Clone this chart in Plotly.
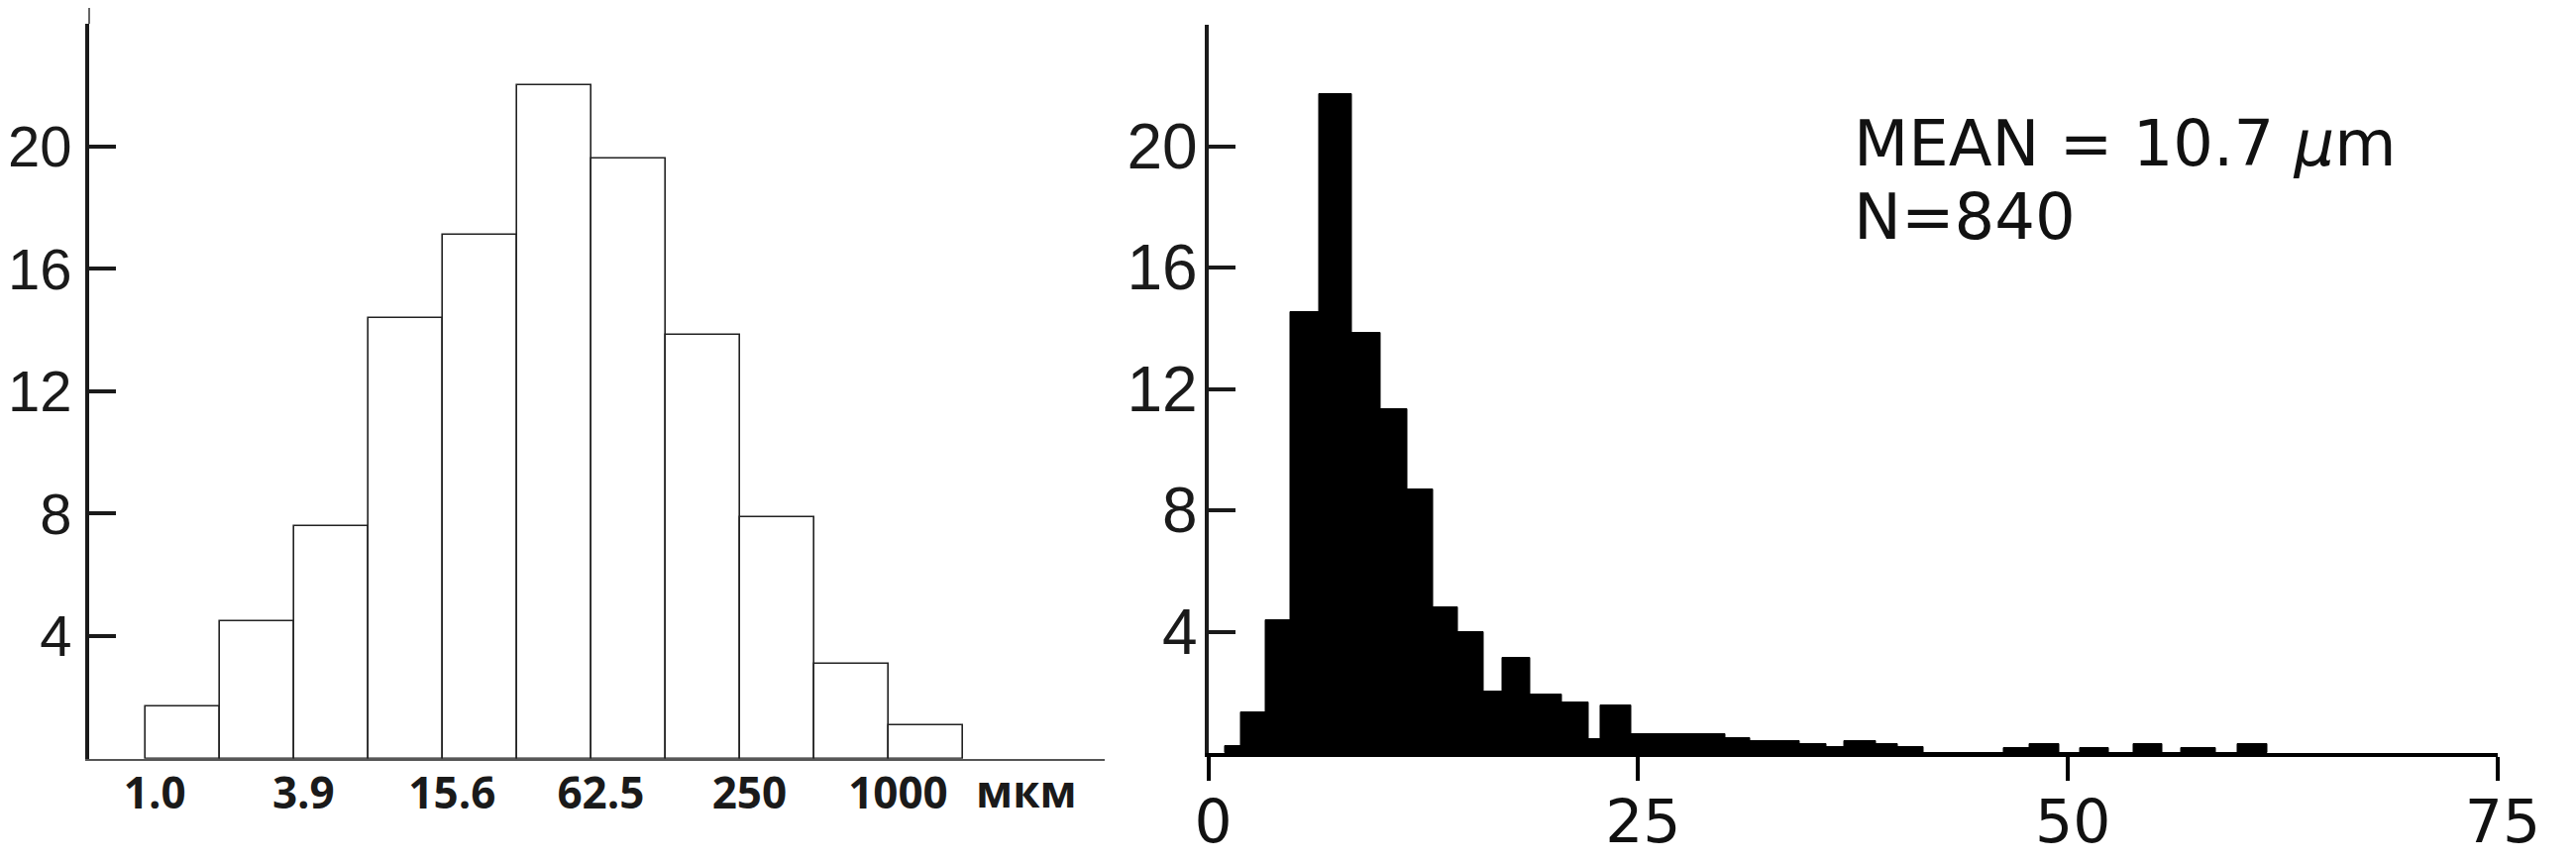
import numpy as np
import plotly.graph_objects as go

# ---- left panel: size classes on a phi (log2) scale, % of grains ----
phi_left_edge = list(range(11))
phi_pct = [1.7, 4.5, 7.6, 14.4, 17.1, 22.0, 19.6, 13.85, 7.9, 3.1, 1.1]
phi_tick_pos = [0, 2, 4, 6, 8, 10]
phi_tick_text = ["1.0", "3.9", "15.6", "62.5", "250", "1000"]

# ---- right panel: linear size histogram (um), % of grains ----
size_edges = [1.0, 1.9, 3.35, 4.8, 6.45, 8.35, 10.0, 11.6, 13.1, 14.55, 16.0,
              17.1, 18.75, 20.6, 22.1, 22.8, 24.6, 30.1, 31.5, 34.4, 35.95,
              37.0, 38.85, 40.1, 41.6, 46.3, 47.8, 49.5, 50.7, 52.4, 53.8,
              55.5, 56.6, 58.6, 59.9, 61.6]
size_pct = [0.22, 1.34, 4.37, 14.54, 21.7, 13.85, 11.34, 8.69, 4.81, 3.99,
            2.04, 3.14, 1.93, 1.67, 0.47, 1.56, 0.62, 0.5, 0.38, 0.28, 0.2,
            0.4, 0.3, 0.2, 0.0, 0.15, 0.28, 0.0, 0.15, 0.0, 0.28, 0.0, 0.15,
            0.0, 0.28]
size_ticks = [0, 25, 50, 75]

y_ticks = [4, 8, 12, 16, 20, 24]
y_tick_text = ["4", "8", "12", "16", "20", ""]

# the page body has an 8px margin, so the figure is a bit smaller
PAGE_W, PAGE_H, BODY = 2600, 871, 8
W, H = PAGE_W - BODY, PAGE_H - BODY


def fx(px):
    return (px - BODY) / W


def fy(py):
    return (PAGE_H - py) / H


fig = go.Figure()

# left histogram: white boxes with thin outlines
fig.add_trace(go.Bar(
    x=np.array(phi_left_edge) + 0.5,
    y=phi_pct,
    width=1,
    marker=dict(color="white", line=dict(color="#222", width=1.6)),
    xaxis="x", yaxis="y",
))

# right histogram: solid black bins
edges = np.array(size_edges)
fig.add_trace(go.Bar(
    x=(edges[:-1] + edges[1:]) / 2,
    y=size_pct,
    width=np.diff(edges),
    marker=dict(color="black", line=dict(color="black", width=1)),
    xaxis="x2", yaxis="y2",
))

num_font = dict(family="Liberation Sans, Arial, sans-serif", size=64, color="#1a1a1a")
round_font = dict(family="DejaVu Sans, sans-serif", size=64, color="#111")
bold_font = dict(family="Open Sans, sans-serif", size=44,
                 color="#1a1a1a", weight="bold")

fig.update_layout(
    width=W, height=H,
    margin=dict(l=0, r=0, t=0, b=0),
    paper_bgcolor="white", plot_bgcolor="white",
    showlegend=False, bargap=0,
    xaxis=dict(
        domain=[fx(90), fx(1115)], range=[-0.764, 12.9],
        tickvals=phi_tick_pos, ticktext=phi_tick_text,
        ticks="", showgrid=False, zeroline=False,
        showline=True, linecolor="#555", linewidth=2,
        tickfont=bold_font,
        ticklabelshift=9, ticklabelstandoff=-5,
        anchor="y", automargin=False,
    ),
    yaxis=dict(
        domain=[fy(765.7), fy(24)], range=[0, 24],
        tickvals=y_ticks, ticktext=y_tick_text,
        ticks="inside", ticklen=27, tickwidth=4, tickcolor="#1a1a1a",
        showline=True, linecolor="#1a1a1a", linewidth=4,
        showgrid=False, zeroline=False,
        tickfont=dict(num_font, size=58), ticklabelstandoff=2,
        anchor="x", automargin=False,
    ),
    xaxis2=dict(
        domain=[fx(1219.5), fx(2521)], range=[0, 75],
        tickvals=size_ticks,
        ticks="outside", ticklen=24, tickwidth=4, tickcolor="black",
        showline=True, linecolor="black", linewidth=4,
        showgrid=False, zeroline=False,
        tickfont=dict(round_font, size=60), ticklabelshift=5,
        ticklabelstandoff=-10,
        anchor="y2", automargin=False,
    ),
    yaxis2=dict(
        domain=[fy(760), fy(25)], range=[0, 24],
        tickvals=y_ticks, ticktext=y_tick_text,
        ticks="inside", ticklen=27, tickwidth=4, tickcolor="#1a1a1a",
        showline=True, linecolor="#1a1a1a", linewidth=4,
        showgrid=False, zeroline=False,
        tickfont=num_font, ticklabelstandoff=-6,
        anchor="x2", automargin=False,
    ),
)

# unit label after the last phi tick
fig.add_annotation(
    x=11.85, y=0, xref="x", yref="y", yanchor="middle", yshift=-32,
    text="мкм", showarrow=False, font=bold_font,
)

# statistics block on the right panel
fig.add_annotation(
    x=37.4, y=21.35, xref="x2", yref="y2", xanchor="left", yanchor="top",
    text="MEAN = 10.7 <i>μ</i>m", showarrow=False, font=round_font,
)
fig.add_annotation(
    x=37.4, y=18.95, xref="x2", yref="y2", xanchor="left", yanchor="top",
    text="N=840", showarrow=False, font=round_font,
)

# thin stub above the left axis, as in the scan
fig.add_shape(type="line", xref="paper", yref="paper",
              x0=fx(90), x1=fx(90), y0=fy(24), y1=1,
              line=dict(color="#333", width=1.5))

fig.write_html("out.html")
